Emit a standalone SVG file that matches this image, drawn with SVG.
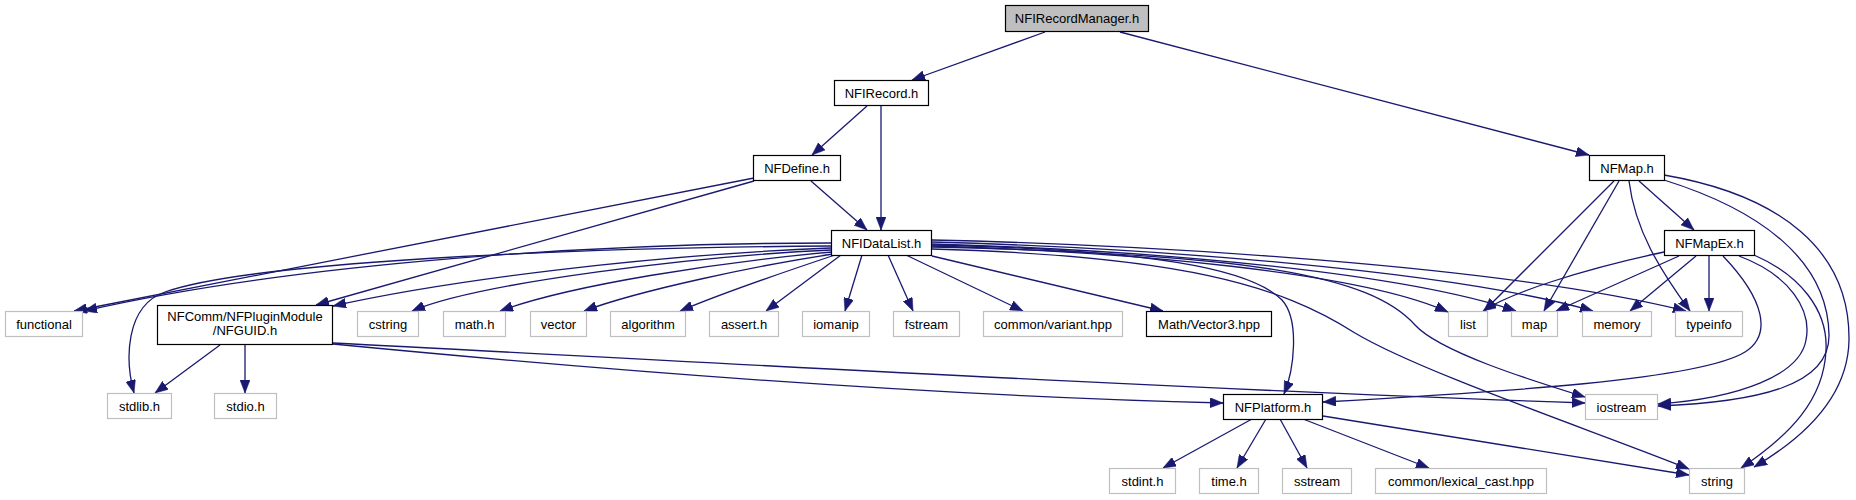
<svg xmlns="http://www.w3.org/2000/svg" width="1856" height="500" viewBox="0 0 1856 500">
<style>
.doc rect{fill:#ffffff;stroke:#000000;stroke-width:1.2}
.ext rect{fill:#ffffff;stroke:#bfbfbf;stroke-width:1.2}
.root rect{fill:#bfbfbf;stroke:#000000;stroke-width:1.2}
text{font-family:"Liberation Sans",Arial,sans-serif;font-size:13px;text-anchor:middle;fill:#000000}
#edges path{fill:none;stroke:#191970;stroke-width:1.3;marker-end:url(#ah)}
</style>
<defs>
<marker id="ah" viewBox="0 0 13 10" refX="13" refY="5" markerWidth="13" markerHeight="10" markerUnits="userSpaceOnUse" orient="auto">
<path d="M0,0 L13,5 L0,10 z" fill="#191970" stroke="#191970" stroke-width="0.5"/>
</marker>
</defs>
<rect x="0" y="0" width="1856" height="500" fill="#ffffff"/>
<g id="edges">
<path d="M1045,32 L912,80"/>
<path d="M1120,32 L1589,155"/>
<path d="M867,106 L812,155"/>
<path d="M881,106 L881,230"/>
<path d="M811,181 L867,230"/>
<path d="M754,178 L74,311"/>
<path d="M754,181 L316,305"/>
<path d="M831,243 C600,243 300,262 84,311"/>
<path d="M831,246 C560,248 250,262 165,292 C125,306 125,360 134,393"/>
<path d="M831,248 C650,255 450,280 333,306"/>
<path d="M831,250 C700,256 480,282 412,311"/>
<path d="M832,252 C720,262 570,285 500,311"/>
<path d="M833,254 C760,265 640,290 584,311"/>
<path d="M835,255 C790,270 730,290 680,311"/>
<path d="M841,255 L766,311"/>
<path d="M862,255 L845,311"/>
<path d="M888,255 L913,311"/>
<path d="M906,255 L1023,311"/>
<path d="M932,256 L1163,311"/>
<path d="M932,240 C1150,245 1500,265 1686,311"/>
<path d="M932,242 C1150,248 1450,270 1593,311"/>
<path d="M932,244 C1150,250 1400,272 1516,311"/>
<path d="M932,246 C1130,252 1360,272 1448,312"/>
<path d="M932,247 C1250,254 1370,275 1415,325 C1440,352 1530,380 1585,397"/>
<path d="M932,249 C1180,256 1280,285 1355,333 C1420,372 1600,433 1689,469"/>
<path d="M932,245 C1150,250 1250,268 1282,300 C1300,320 1294,370 1284,394"/>
<path d="M220,345 L155,393"/>
<path d="M245,345 L245,393"/>
<path d="M333,343 C700,362 1200,390 1585,403"/>
<path d="M333,344 C550,365 900,395 1223,403"/>
<path d="M1614,181 L1484,311"/>
<path d="M1619,181 L1544,311"/>
<path d="M1629,181 C1635,230 1660,270 1690,311"/>
<path d="M1639,181 L1694,230"/>
<path d="M1664,180 C1760,210 1828,260 1829,335 C1830,385 1760,402 1658,406"/>
<path d="M1664,175 C1780,195 1850,250 1849,340 C1848,400 1800,440 1754,467"/>
<path d="M1664,252 C1580,270 1510,293 1483,311"/>
<path d="M1679,256 L1556,311"/>
<path d="M1696,256 L1630,311"/>
<path d="M1709,256 L1709,311"/>
<path d="M1723,256 C1765,300 1772,335 1745,352 C1700,380 1500,392 1323,402"/>
<path d="M1739,256 C1790,275 1812,310 1806,340 C1800,375 1740,398 1658,404"/>
<path d="M1754,255 C1800,275 1828,310 1826,350 C1824,400 1790,435 1741,468"/>
<path d="M1252,419 L1163,468"/>
<path d="M1266,419 L1237,468"/>
<path d="M1280,419 L1307,468"/>
<path d="M1303,419 L1429,468"/>
<path d="M1323,416 L1689,475"/>
</g>
<g id="n_NFIRecordManager" class="root"><rect x="1005.5" y="5.5" width="143" height="26"/><text x="1077" y="23">NFIRecordManager.h</text></g>
<g id="n_NFIRecord" class="doc"><rect x="834.5" y="80.5" width="94" height="25"/><text x="881.5" y="97.5">NFIRecord.h</text></g>
<g id="n_NFDefine" class="doc"><rect x="753.5" y="155.5" width="87" height="25"/><text x="797" y="172.5">NFDefine.h</text></g>
<g id="n_NFMap" class="doc"><rect x="1589.5" y="155.5" width="75" height="25"/><text x="1627" y="172.5">NFMap.h</text></g>
<g id="n_NFIDataList" class="doc"><rect x="831.5" y="230.5" width="100" height="25"/><text x="881.5" y="247.5">NFIDataList.h</text></g>
<g id="n_NFMapEx" class="doc"><rect x="1664.5" y="230.5" width="90" height="25"/><text x="1709.5" y="247.5">NFMapEx.h</text></g>
<g id="n_functional" class="ext"><rect x="5.5" y="311.5" width="77" height="25"/><text x="44" y="329">functional</text></g>
<g id="n_NFGUID" class="doc"><rect x="157.5" y="305.5" width="175" height="39"/><text x="245" y="321">NFComm/NFPluginModule</text><text x="245" y="335">/NFGUID.h</text></g>
<g id="n_cstring" class="ext"><rect x="357.5" y="311.5" width="61" height="25"/><text x="388" y="329">cstring</text></g>
<g id="n_math" class="ext"><rect x="443.5" y="311.5" width="62" height="25"/><text x="474.5" y="329">math.h</text></g>
<g id="n_vector" class="ext"><rect x="530.5" y="311.5" width="56" height="25"/><text x="558.5" y="329">vector</text></g>
<g id="n_algorithm" class="ext"><rect x="610.5" y="311.5" width="75" height="25"/><text x="648" y="329">algorithm</text></g>
<g id="n_assert" class="ext"><rect x="709.5" y="311.5" width="69" height="25"/><text x="744" y="329">assert.h</text></g>
<g id="n_iomanip" class="ext"><rect x="802.5" y="311.5" width="67" height="25"/><text x="836" y="329">iomanip</text></g>
<g id="n_fstream" class="ext"><rect x="893.5" y="311.5" width="66" height="25"/><text x="926.5" y="329">fstream</text></g>
<g id="n_variant" class="ext"><rect x="983.5" y="311.5" width="139" height="25"/><text x="1053" y="329">common/variant.hpp</text></g>
<g id="n_Vector3" class="doc"><rect x="1146.5" y="311.5" width="125" height="25"/><text x="1209" y="329">Math/Vector3.hpp</text></g>
<g id="n_list" class="ext"><rect x="1448.5" y="311.5" width="39" height="25"/><text x="1468" y="329">list</text></g>
<g id="n_map" class="ext"><rect x="1511.5" y="311.5" width="46" height="25"/><text x="1534.5" y="329">map</text></g>
<g id="n_memory" class="ext"><rect x="1582.5" y="311.5" width="69" height="25"/><text x="1617" y="329">memory</text></g>
<g id="n_typeinfo" class="ext"><rect x="1675.5" y="311.5" width="67" height="25"/><text x="1709" y="329">typeinfo</text></g>
<g id="n_stdlib" class="ext"><rect x="107.5" y="393.5" width="64" height="25"/><text x="139.5" y="411">stdlib.h</text></g>
<g id="n_stdio" class="ext"><rect x="214.5" y="393.5" width="62" height="25"/><text x="245.5" y="411">stdio.h</text></g>
<g id="n_NFPlatform" class="doc"><rect x="1223.5" y="394.5" width="99" height="25"/><text x="1273" y="411.5">NFPlatform.h</text></g>
<g id="n_iostream" class="ext"><rect x="1585.5" y="394.5" width="72" height="25"/><text x="1621.5" y="411.5">iostream</text></g>
<g id="n_stdint" class="ext"><rect x="1109.5" y="468.5" width="66" height="25"/><text x="1142.5" y="485.5">stdint.h</text></g>
<g id="n_time" class="ext"><rect x="1199.5" y="468.5" width="59" height="25"/><text x="1229" y="485.5">time.h</text></g>
<g id="n_sstream" class="ext"><rect x="1282.5" y="468.5" width="69" height="25"/><text x="1317" y="485.5">sstream</text></g>
<g id="n_lexical_cast" class="ext"><rect x="1375.5" y="468.5" width="171" height="25"/><text x="1461" y="485.5">common/lexical_cast.hpp</text></g>
<g id="n_string" class="ext"><rect x="1689.5" y="468.5" width="55" height="25"/><text x="1717" y="485.5">string</text></g>
</svg>
